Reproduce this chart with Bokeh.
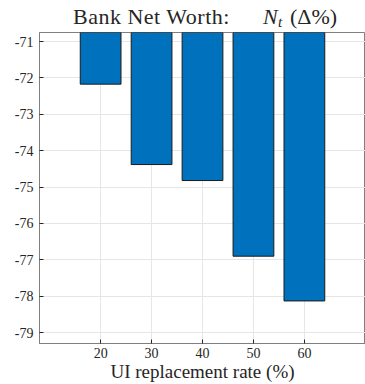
from bokeh.plotting import figure
from bokeh.layouts import column
from bokeh.models import Range1d, FixedTicker, Div
from bokeh.embed import file_html
from bokeh.resources import INLINE

rates = [20, 30, 40, 50, 60]
net_worth = [-72.17, -74.38, -74.82, -76.90, -78.13]
y_ticks = [-79, -78, -77, -76, -75, -74, -73, -72, -71]
title_main = "Bank Net Worth:"
title_var = "N"
title_sub = "t"
title_unit = "(Δ%)"
x_label = "UI replacement rate (%)"

SERIF = "Liberation Serif"
TXT = "#262626"

base = "position:absolute;white-space:nowrap;font-family:'Liberation Serif';color:%s;" % TXT
html = (
    '<div style="position:relative;width:365px;height:31px;">'
    f'<span style="{base}left:73px;top:6px;font-size:22px;line-height:22px;letter-spacing:0.5px;">{title_main}</span>'
    f'<span style="{base}left:263px;top:6px;font-size:22px;line-height:22px;font-style:italic;">{title_var}</span>'
    f'<span style="{base}left:278px;top:15px;font-size:15px;line-height:15px;font-style:italic;">{title_sub}</span>'
    f'<span style="{base}left:290px;top:6px;font-size:22px;line-height:22px;">{title_unit}</span>'
    '</div>'
)
title_div = Div(text=html, width=365, height=31, margin=(0, 0, 0, 0))

p = figure(width=365, height=353, output_backend="svg", toolbar_location=None,
           x_range=Range1d(8, 72), y_range=Range1d(-79.3, -70.75),
           min_border_left=39, min_border_right=0, min_border_top=1, min_border_bottom=41,
           margin=(0, 0, 0, 0))

p.vbar(x=rates, width=8, bottom=net_worth, top=0, fill_color="#0072BD",
       line_color="#1a1a1a", line_width=1)

for ax in (p.xaxis, p.yaxis):
    ax.major_tick_in = 4
    ax.major_tick_out = 0
    ax.minor_tick_line_color = None
    ax.axis_line_color = "#7f7f7f"
    ax.major_tick_line_color = TXT
    ax.major_label_text_font = SERIF
    ax.major_label_text_font_size = "14px"
    ax.major_label_text_color = TXT
    ax.axis_label_text_font = SERIF
    ax.axis_label_text_font_style = "normal"
    ax.axis_label_text_color = TXT

p.xaxis.ticker = FixedTicker(ticks=rates)
p.yaxis.ticker = FixedTicker(ticks=y_ticks)
p.yaxis.major_label_overrides = {v: "%d" % v for v in y_ticks}
p.xaxis.major_label_overrides = {v: "%d" % v for v in rates}
p.xaxis.axis_label = x_label
p.xaxis.axis_label_text_font_size = "19px"
p.xaxis.axis_label_standoff = 0
p.xaxis.major_label_standoff = 4
p.yaxis.major_label_standoff = 6

p.xgrid.grid_line_color = "#e6e6e6"
p.ygrid.grid_line_color = "#e6e6e6"
p.outline_line_color = "#7f7f7f"
p.background_fill_color = "white"

layout = column(title_div, p, spacing=0, margin=(0, 0, 0, 0))
open("out.html", "w").write(file_html(layout, INLINE))
